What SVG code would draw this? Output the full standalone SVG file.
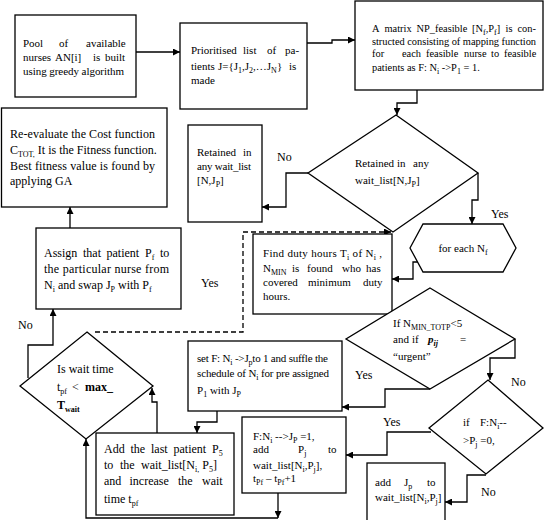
<svg xmlns="http://www.w3.org/2000/svg" width="545" height="520" viewBox="0 0 545 520">
<style>
text{font-family:"Liberation Serif","Times New Roman",serif;font-size:11px;fill:#000}
.f12{font-size:12px}
.f10{font-size:10.4px}
.sub{font-size:8px;baseline-shift:-3px}
.b{font-weight:bold}
.box{fill:#fff;stroke:#000;stroke-width:1.3}
.ln{fill:none;stroke:#000;stroke-width:1.3}
.dash{stroke-dasharray:5 3}
</style>
<defs>
<marker id="ah" viewBox="0 0 10 10" refX="10" refY="5" markerWidth="8" markerHeight="7" markerUnits="userSpaceOnUse" orient="auto"><path d="M0,0 L10,5 L0,10 z" fill="#000"/></marker>
</defs>
<rect width="545" height="520" fill="#fff"/>

<g id="connectors">
<path class="ln" d="M136,52 H180" marker-end="url(#ah)"/>
<path class="ln" d="M307,43 H332 V40 H355" marker-end="url(#ah)"/>
<path class="ln" d="M417,90 V103 H397 V115" marker-end="url(#ah)"/>
<path class="ln" d="M308,173 H286 V207 H262" marker-end="url(#ah)"/>
<path class="ln" d="M478,173 V200 H472 V224" marker-end="url(#ah)"/>
<path class="ln" d="M418,262 H413 V279 H392" marker-end="url(#ah)"/>
<path class="ln dash" d="M95,332 H243 V232 H391" marker-end="url(#ah)"/>
<path class="ln" d="M70,228 V207" marker-end="url(#ah)"/>
<path class="ln" d="M28,378 V345 H53 V309" marker-end="url(#ah)"/>
<path class="ln" d="M157,433 V402 H152 V388" marker-end="url(#ah)"/>
<path class="ln" d="M278,518 H86 V439" marker-end="url(#ah)"/>
<path class="ln" d="M278,493 V518" marker-end="url(#ah)"/>
<path class="ln" d="M217,411 V422 H197 V433" marker-end="url(#ah)"/>
<path class="ln" d="M430,389 H385 V407 H342" marker-end="url(#ah)"/>
<path class="ln" d="M515,339 V358 H490 V380" marker-end="url(#ah)"/>
<path class="ln" d="M431,432 H387 V455 H346" marker-end="url(#ah)"/>
<path class="ln" d="M486,475 H467 V502 H445" marker-end="url(#ah)"/>
<text class="f12" x="277" y="161">No</text>
<text class="f12" x="491" y="218">Yes</text>
<text class="f12" x="201" y="287">Yes</text>
<text class="f12" x="18" y="329">No</text>
<text class="f12" x="355" y="379">Yes</text>
<text class="f12" x="511" y="386">No</text>
<text class="f12" x="383" y="426">Yes</text>
<text class="f12" x="481" y="496">No</text>
</g>

<g id="pool">
<rect class="box" x="15" y="15" width="121" height="82"/>
<text y="47"><tspan x="23">Pool</tspan><tspan x="59">of</tspan><tspan x="86">available</tspan></text>
<text y="61"><tspan x="23">nurses</tspan><tspan x="55">AN[i]</tspan><tspan x="93">is</tspan><tspan x="105">built</tspan></text>
<text x="23" y="75" textLength="101" lengthAdjust="spacing">using greedy algorithm</text>
</g>

<g id="prioritised">
<rect class="box" x="180" y="23" width="127" height="86"/>
<text y="54"><tspan x="191">Prioritised</tspan><tspan x="243">list</tspan><tspan x="267">of</tspan><tspan x="285">pa-</tspan></text>
<text y="70"><tspan x="191">tients</tspan><tspan x="218">J={J<tspan class="sub">1</tspan>,J<tspan class="sub">2</tspan>,…J<tspan class="sub">N</tspan>}</tspan><tspan x="289">is</tspan></text>
<text x="191" y="84">made</text>
</g>

<g id="matrix">
<rect class="box" x="355" y="1" width="188" height="89"/>
<text class="f10" y="32"><tspan x="372">A</tspan><tspan x="384.5">matrix</tspan><tspan x="416.5">NP_feasible</tspan><tspan x="472">[N<tspan class="sub">f</tspan>,P<tspan class="sub">f</tspan>]</tspan><tspan x="505.5">is</tspan><tspan x="517.5">con-</tspan></text>
<text class="f10" x="372" y="45" textLength="164" lengthAdjust="spacing">structed consisting of mapping function</text>
<text class="f10" y="57"><tspan x="372">for</tspan><tspan x="402">each</tspan><tspan x="426">feasible</tspan><tspan x="464">nurse</tspan><tspan x="491">to</tspan><tspan x="504">feasible</tspan></text>
<text class="f10" x="372" y="71">patients as F: N<tspan class="sub">i</tspan> -&gt;P<tspan class="sub">1</tspan> = 1.</text>
</g>

<g id="reevaluate">
<rect class="box" x="1.5" y="108" width="165.5" height="99"/>
<text class="f12" x="10" y="138" textLength="145" lengthAdjust="spacing">Re-evaluate the Cost function</text>
<text class="f12" x="10" y="154">C<tspan class="sub">TOT,</tspan> It is the Fitness function.</text>
<text class="f12" x="10" y="170" textLength="145" lengthAdjust="spacing">Best fitness value is found by</text>
<text class="f12" x="10" y="185">applying GA</text>
</g>

<g id="retained-box">
<rect class="box" x="188" y="125" width="74" height="97"/>
<text y="156"><tspan x="197">Retained</tspan><tspan x="243">in</tspan></text>
<text x="197" y="170" textLength="54" lengthAdjust="spacing">any wait_list</text>
<text x="197" y="184">[N,J<tspan class="sub">P</tspan>]</text>
</g>

<g id="retained-decision">
<polygon class="box" points="396,115 478,173 393,232 308,173"/>
<text y="167"><tspan x="355">Retained</tspan><tspan x="397">in</tspan><tspan x="413">any</tspan></text>
<text x="355" y="184">wait_list[N,J<tspan class="sub">P</tspan>]</text>
</g>

<g id="for-each">
<polygon class="box" points="410,248 423,224 503,224 516,248 503,272 423,272"/>
<text x="463" y="252" text-anchor="middle">for each N<tspan class="sub">f</tspan></text>
</g>

<g id="find-duty">
<rect class="box" x="253" y="234" width="139" height="80"/>
<text x="263" y="257" textLength="119" lengthAdjust="spacing">Find duty hours T<tspan class="sub">i</tspan> of N<tspan class="sub">i</tspan> ,</text>
<text y="272"><tspan x="263">N<tspan class="sub">MIN</tspan></tspan><tspan x="292">is</tspan><tspan x="307">found</tspan><tspan x="342">who</tspan><tspan x="366">has</tspan></text>
<text y="286"><tspan x="263">covered</tspan><tspan x="308">minimum</tspan><tspan x="363">duty</tspan></text>
<text x="263" y="300">hours.</text>
</g>

<g id="assign">
<rect class="box" x="36" y="228" width="145" height="81"/>
<text class="f12" y="257"><tspan x="44">Assign</tspan><tspan x="83">that</tspan><tspan x="106.5">patient</tspan><tspan x="145">P<tspan class="sub">f</tspan></tspan><tspan x="160">to</tspan></text>
<text class="f12" x="44" y="273" textLength="125" lengthAdjust="spacing">the particular nurse from</text>
<text class="f12" x="44" y="289">N<tspan class="sub">i</tspan> and swap J<tspan class="sub">P</tspan> with P<tspan class="sub">f</tspan></text>
</g>

<g id="urgent-decision">
<polygon class="box" points="430,288 515,339 430,389 346,339"/>
<text x="393" y="327">If  N<tspan class="sub">MIN_TOTP</tspan>&lt;5</text>
<text y="343"><tspan x="393">and</tspan><tspan x="412">if</tspan><tspan x="428" font-style="italic" font-weight="bold">p<tspan class="sub">ij</tspan></tspan><tspan x="460">=</tspan></text>
<text x="393" y="360">“urgent”</text>
</g>

<g id="wait-decision">
<polygon class="box" points="87,332 153,386 86,439 20,386"/>
<text class="f12" x="57" y="373">Is wait time</text>
<text class="f12" y="391"><tspan x="57">t<tspan class="sub">pf</tspan></tspan><tspan x="72">&lt;</tspan><tspan x="85" class="b">max_</tspan></text>
<text class="f12 b" x="57" y="409">T<tspan class="sub">wait</tspan></text>
</g>

<g id="set-f">
<rect class="box" x="188" y="341" width="154" height="70"/>
<text x="197" y="362" textLength="131" lengthAdjust="spacing">set F: N<tspan class="sub">i</tspan> -&gt;J<tspan class="sub">p</tspan>to 1 and suffle the</text>
<text x="197" y="377" textLength="132" lengthAdjust="spacing">schedule of N<tspan class="sub">i</tspan> for pre assigned</text>
<text x="197" y="394">P<tspan class="sub">1</tspan> with J<tspan class="sub">P</tspan></text>
</g>

<g id="add-last">
<rect class="box" x="96" y="433" width="138" height="82"/>
<text class="f12" y="453"><tspan x="104">Add</tspan><tspan x="130.5">the</tspan><tspan x="151">last</tspan><tspan x="173.5">patient</tspan><tspan x="212">P<tspan class="sub">5</tspan></tspan></text>
<text class="f12" y="469"><tspan x="104">to</tspan><tspan x="120">the</tspan><tspan x="141">wait_list[N<tspan class="sub">i,</tspan> P<tspan class="sub">5</tspan>]</tspan></text>
<text class="f12" y="485"><tspan x="104">and</tspan><tspan x="129.5">increase</tspan><tspan x="178">the</tspan><tspan x="202">wait</tspan></text>
<text class="f12" x="104" y="503">time t<tspan class="sub">pf</tspan></text>
</g>

<g id="f-add">
<rect class="box" x="242" y="417" width="104" height="76"/>
<text x="253" y="440">F:N<tspan class="sub">i</tspan> --&gt;J<tspan class="sub">P</tspan> =1,</text>
<text y="453"><tspan x="253">add</tspan><tspan x="298">P<tspan class="sub">j</tspan></tspan><tspan x="328">to</tspan></text>
<text x="253" y="469">wait_list[N<tspan class="sub">i</tspan>,P<tspan class="sub">j</tspan>],</text>
<text x="253" y="482">t<tspan class="sub">Pf</tspan> – t<tspan class="sub">Pf</tspan>+1</text>
</g>

<g id="f-decision">
<polygon class="box" points="488,380 543,428 486,474 429,428"/>
<text y="426"><tspan x="463">if</tspan><tspan x="480">F:N<tspan class="sub">i</tspan>--</tspan></text>
<text x="463" y="444">&gt;P<tspan class="sub">j</tspan> =0,</text>
</g>

<g id="add-jp">
<rect class="box" x="367" y="463" width="78" height="70"/>
<text y="486"><tspan x="375">add</tspan><tspan x="404">J<tspan class="sub">p</tspan></tspan><tspan x="427">to</tspan></text>
<text x="375" y="501">wait_list[N<tspan class="sub">i</tspan>,P<tspan class="sub">j</tspan>]</text>
</g>
</svg>
